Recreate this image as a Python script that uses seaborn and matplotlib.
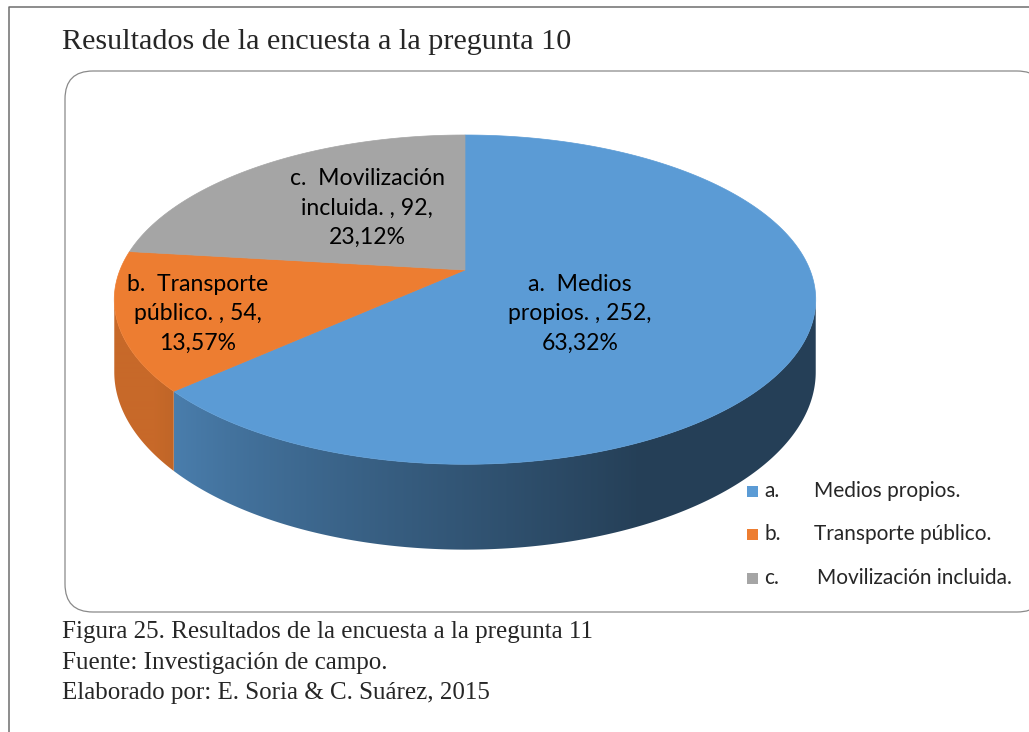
import numpy as np
import matplotlib
matplotlib.use("Agg")
import matplotlib.pyplot as plt
from matplotlib.patches import Polygon, Rectangle, FancyBboxPatch
import seaborn as sns

# --- data -------------------------------------------------------------
letters = ["a.", "b.", "c."]
names = ["Medios propios.", "Transporte público.", "Movilización incluida."]
counts = [252, 54, 92]

title = "Resultados de la encuesta a la pregunta 10"
caption = [
    "Figura 25. Resultados de la encuesta a la pregunta 11",
    "Fuente: Investigación de campo.",
    "Elaborado por: E. Soria & C. Suárez, 2015",
]

# --- style ------------------------------------------------------------
sns.set_theme(style="white")
palette = sns.color_palette(["#5B9BD5", "#ED7D31", "#A5A5A5"])
LABEL_FONT = ["Lato", "DejaVu Sans"]
SERIF_FONT = ["Liberation Serif", "DejaVu Serif"]

# pseudo-3D pie geometry (pixels)
CX, CY = 465, 270
A, B, K, H = 159.3, 345.0, 0.18, 70.0
PHI_VIS = (90 + np.degrees(np.arcsin(K)), 270 - np.degrees(np.arcsin(K)))

# label anchor positions inside each slice (pixels)
label_pos = [(580, 314), (198, 314), (367, 208)]


def project(phi, r=1.0, z=0.0):
    """phi in degrees, clockwise from 12 o'clock; z = 1 at the bottom face."""
    t = np.radians(phi)
    u, w = r * np.sin(t), r * np.cos(t)
    den = 1 + K * w
    return CX + B * u / den, CY - A * w / den + H * z / den


def shade(phi):
    return np.clip(0.41 + (phi - 155) / 73 * 0.40, 0.41, 0.84)


fig = plt.figure(figsize=(10.29, 7.32), dpi=100)
ax = fig.add_axes([0, 0, 1, 1])
ax.set_xlim(0, 1029)
ax.set_ylim(732, 0)
ax.axis("off")

# outer page frame
ax.plot([9, 9, 1029], [732, 7, 7], color="#6e6e6e", lw=1.1, solid_capstyle="butt")

# rounded chart area
ax.add_patch(FancyBboxPatch((65, 71), 980, 541,
                            boxstyle="round,pad=0,rounding_size=28",
                            facecolor="white", edgecolor="#8a8a8a", lw=0.9))

total = sum(counts)
bounds = np.concatenate([[0], np.cumsum(counts) / total * 360])

# screen x -> angle on the visible front arc (x decreases as phi grows)
arc_phi = np.linspace(PHI_VIS[0], PHI_VIS[1], 800)
arc_x = project(arc_phi)[0]
xs = np.arange(100, 830)
col_phi = np.interp(xs, arc_x[::-1], arc_phi[::-1])
col_shade = shade(col_phi)

# side walls: horizontal gradient clipped to each slice's wall
for i, col in enumerate(palette):
    s, e = max(bounds[i], PHI_VIS[0]), min(bounds[i + 1], PHI_VIS[1])
    if e <= s:
        continue
    phis = np.linspace(s, e, 300)
    top = [project(p) for p in phis]
    bot = [project(p, z=1) for p in phis[::-1]]
    wall = Polygon(top + bot, closed=True, facecolor="none", edgecolor="none")
    ax.add_patch(wall)
    img = np.clip(col_shade[None, :, None] * np.array(col)[None, None, :], 0, 1)
    im = ax.imshow(img, extent=(xs[0], xs[-1] + 1, 560, 250), aspect="auto",
                   interpolation="bilinear", zorder=1)
    im.set_clip_path(wall)

# top faces
for i, col in enumerate(palette):
    phis = np.linspace(bounds[i], bounds[i + 1], 200)
    pts = [project(0, r=0)] + [project(p) for p in phis]
    ax.add_patch(Polygon(pts, closed=True, facecolor=col, edgecolor=col, lw=0.5, zorder=2))

# data labels
for i in range(len(counts)):
    first, rest = names[i].split(" ", 1)
    pct = f"{counts[i] / total * 100:.2f}".replace(".", ",") + "%"
    txt = f"{letters[i]}  {first}\n{rest} , {counts[i]},\n{pct}"
    ax.text(*label_pos[i], txt, ha="center", va="center", fontsize=16.6,
            family=LABEL_FONT, color="black", linespacing=1.5, zorder=3)

# legend
for i, col in enumerate(palette):
    y = 491 + i * 43.5
    ax.add_patch(Rectangle((747, y - 5.5), 11, 11, facecolor=col, edgecolor="none"))
    ax.text(764, y, letters[i], ha="left", va="center", fontsize=15, family=LABEL_FONT)
    ax.text(814 if i < 2 else 817, y, names[i], ha="left", va="center",
            fontsize=15, family=LABEL_FONT)

# title and caption
ax.text(62, 42, title, ha="left", va="center", fontsize=21.7, family=SERIF_FONT)
for j, line in enumerate(caption):
    ax.text(62, 632 + j * 30.5, line, ha="left", va="center", fontsize=18, family=SERIF_FONT)

fig.savefig("out.png", dpi=100)
